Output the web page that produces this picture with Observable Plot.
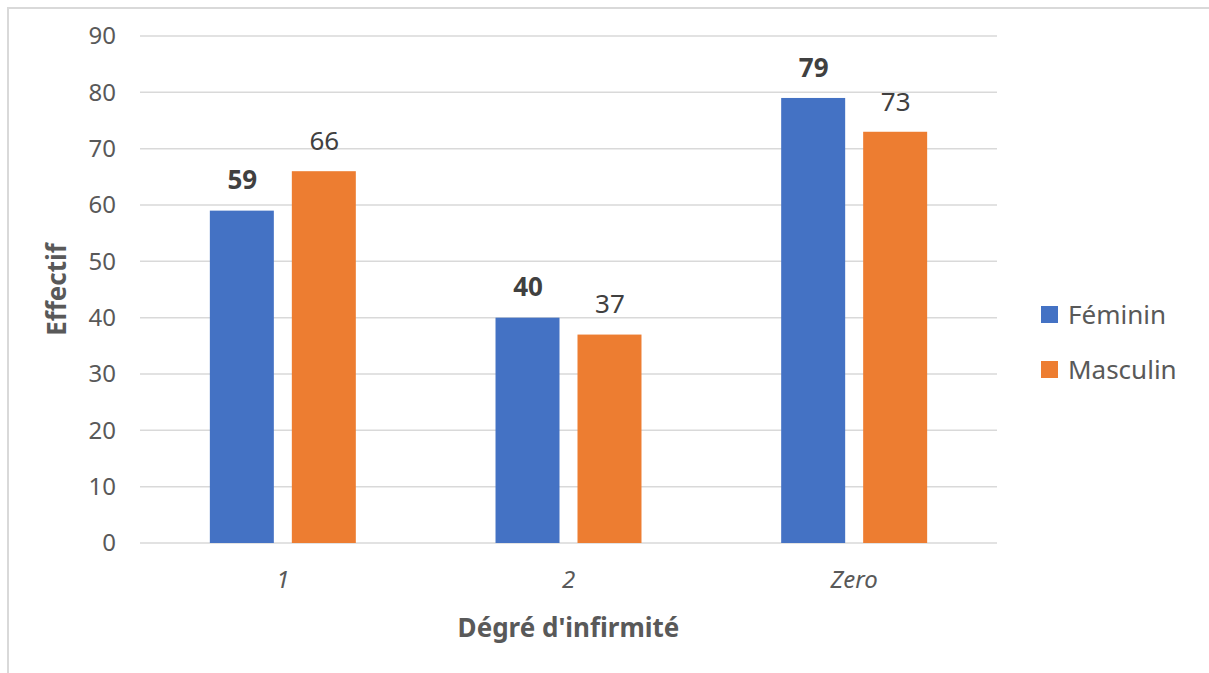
<!DOCTYPE html>
<html>
<head>
<meta charset="utf-8">
<script src="https://cdn.jsdelivr.net/npm/d3@7"></script>
<script src="https://cdn.jsdelivr.net/npm/@observablehq/plot@0.6"></script>
<style>
  html, body { margin: 0; padding: 0; background: #fff; }
  body { width: 1209px; height: 673px; overflow: hidden; position: relative; font-family: "Noto Sans", "Open Sans", sans-serif; }
  #frame { position: absolute; left: 7px; top: 7px; width: 1400px; height: 900px; border: 2px solid #d9d9d9; box-sizing: border-box; }
  #chart { position: absolute; left: 0; top: 0; }
  #legend { position: absolute; left: 1041px; top: 298px; font-size: 26px; color: #595959; }
  .item { display: flex; align-items: center; height: 32px; margin-bottom: 23px; }
  .sw { width: 17px; height: 17px; margin-right: 10px; }
</style>
</head>
<body>
<div id="frame"></div>
<div id="chart"></div>
<div id="legend"></div>
<script>
const categories = ["1", "2", "Zero"];
const series = ["Féminin", "Masculin"];
const feminin = [59, 40, 79];
const masculin = [66, 37, 73];
const colors = ["#4472C4", "#ED7D31"];
const yTicks = [0, 10, 20, 30, 40, 50, 60, 70, 80, 90];

const data = [];
categories.forEach((c, i) => {
  data.push({cat: c, serie: series[0], value: feminin[i]});
  data.push({cat: c, serie: series[1], value: masculin[i]});
});

const textColor = "#595959";
const labelColor = "#404040";

const chart = Plot.plot({
  width: 1209,
  height: 673,
  marginLeft: 140,
  marginRight: 212,
  marginTop: 36,
  marginBottom: 130,
  style: {fontFamily: "'Noto Sans', 'Open Sans', sans-serif", background: "transparent", overflow: "visible"},
  fx: {domain: categories, paddingInner: 0.489, paddingOuter: 0.2445, round: false, label: null},
  x: {domain: series, paddingInner: 0.2195, paddingOuter: 0, round: false, axis: null},
  y: {domain: [0, 90], axis: null},
  color: {domain: series, range: colors},
  marks: [
    Plot.barY(data, {fx: "cat", x: "serie", y: "value", fill: "serie"}),
    Plot.text(data.filter(d => d.serie === series[0]), {fx: "cat", x: "serie", y: "value", text: d => String(d.value),
      dy: -30, fontSize: 26, fontWeight: "bold", fill: labelColor}),
    Plot.text(data.filter(d => d.serie === series[1]), {fx: "cat", x: "serie", y: "value", text: d => String(d.value),
      dy: -30, fontSize: 26, fill: labelColor})
  ]
});
document.getElementById("chart").appendChild(chart);

const svg = d3.select(chart);
const yS = chart.scale("y");
const fxS = chart.scale("fx");
const left = 140, right = 1209 - 212;
const grid = svg.insert("g", ":first-child");
yTicks.forEach(t => {
  const y = yS.apply(t);
  grid.append("line").attr("x1", left).attr("x2", right).attr("y1", y).attr("y2", y)
    .attr("stroke", "#d9d9d9").attr("stroke-width", 1.5);
  svg.append("text").attr("x", 116).attr("y", y).attr("text-anchor", "end").attr("dy", "0.35em")
    .attr("font-size", 24).attr("fill", textColor).text(String(t));
});
svg.selectAll("g[aria-label='fx-axis tick label'], g[aria-label='fx-axis tick']").remove();
categories.forEach(c => {
  const x = fxS.apply(c) + fxS.bandwidth / 2;
  svg.append("text").attr("x", x).attr("y", 580).attr("text-anchor", "middle").attr("dy", "0.35em")
    .attr("font-size", 24).attr("font-style", "italic").attr("fill", textColor).text(c);
});
svg.append("text").attr("x", (left + right) / 2).attr("y", 628).attr("text-anchor", "middle").attr("dy", "0.35em")
  .attr("font-size", 26).attr("font-weight", "bold").attr("fill", textColor).text("Dégré d'infirmité");
svg.append("text").attr("transform", `translate(57,${(yS.apply(0) + yS.apply(90)) / 2}) rotate(-90)`)
  .attr("text-anchor", "middle").attr("dy", "0.35em")
  .attr("font-size", 26).attr("font-weight", "bold").attr("fill", textColor).text("Effectif");

const legend = document.getElementById("legend");
series.forEach((s, i) => {
  const it = document.createElement("div");
  it.className = "item";
  const sw = document.createElement("div");
  sw.className = "sw";
  sw.style.background = colors[i];
  const tx = document.createElement("span");
  tx.textContent = s;
  it.appendChild(sw); it.appendChild(tx);
  legend.appendChild(it);
});
</script>
</body>
</html>
